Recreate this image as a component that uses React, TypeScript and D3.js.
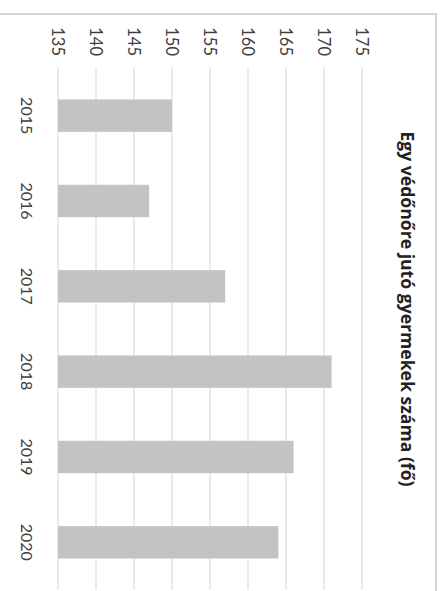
import React from "react";
import * as d3 from "d3";

const years = ["2015", "2016", "2017", "2018", "2019", "2020"];
const values = [150, 147, 157, 171, 166, 164];
const ticks = [135, 140, 145, 150, 155, 160, 165, 170, 175];
const title = "Egy védőnőre jutó gyermekek száma (fő)";

const W = 448;
const H = 591;

export default function App() {
  const x = d3.scaleLinear().domain([135, 175]).range([58, 362]);
  const y = d3
    .scaleBand<string>()
    .domain(years)
    .range([73, 585])
    .paddingInner(0.62)
    .paddingOuter(0.31);
  const font = "Lato, 'Open Sans', sans-serif";
  return (
    <svg
      width={W}
      height={H}
      style={{ position: "absolute", left: 0, top: 0, background: "#fff" }}
    >
      <rect x={0} y={0} width={W} height={H} fill="#fff" />
      <path d="M0 14 H436 V591" fill="none" stroke="#d6d6d6" strokeWidth={2} />
      {ticks.map((t) => (
        <line
          key={"g" + t}
          x1={x(t)}
          x2={x(t)}
          y1={67}
          y2={590}
          stroke="#dcdcdc"
          strokeWidth={1.2}
        />
      ))}
      {years.map((yr, i) => (
        <rect
          key={yr}
          x={x(135)}
          y={y(yr)}
          width={x(values[i]) - x(135)}
          height={y.bandwidth()}
          fill="#c3c3c3"
        />
      ))}
      {ticks.map((t) => (
        <text
          key={"t" + t}
          transform={`translate(${x(t)},56) rotate(90)`}
          textAnchor="end"
          dominantBaseline="central"
          fontFamily={font}
          fontSize={16.5}
          fill="#404040"
        >
          {t}
        </text>
      ))}
      {years.map((yr) => (
        <text
          key={"y" + yr}
          transform={`translate(27,${(y(yr) as number) + y.bandwidth() / 2}) rotate(90)`}
          textAnchor="middle"
          dominantBaseline="central"
          fontFamily={font}
          fontSize={16}
          fill="#404040"
        >
          {yr}
        </text>
      ))}
      <text
        transform={`translate(408,309) rotate(90)`}
        textAnchor="middle"
        dominantBaseline="central"
        fontFamily="'Open Sans', sans-serif"
        fontSize={17.6}
        fontWeight="bold"
        fill="#222"
      >
        {title}
      </text>
    </svg>
  );
}
